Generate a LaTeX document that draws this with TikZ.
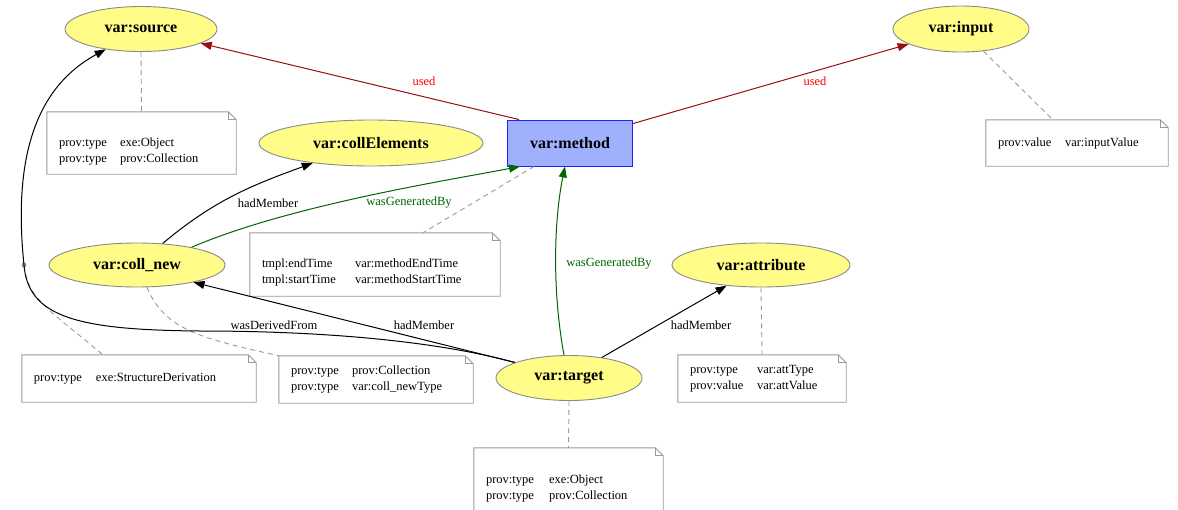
\documentclass[tikz,border=0pt]{standalone}
\usepackage{fontspec}
\setmainfont{Liberation Serif}
\usetikzlibrary{shapes.geometric,arrows.meta,calc}
\definecolor{entfill}{HTML}{FFFC87}
\definecolor{entline}{HTML}{8A8A8A}
\definecolor{actfill}{HTML}{9FB1FC}
\definecolor{actline}{HTML}{2020FF}
\definecolor{usedline}{HTML}{990F0F}
\definecolor{genline}{HTML}{006400}
\definecolor{noteline}{HTML}{9A9A9A}
\newcommand{\notetab}[2]{\begin{tabular}{@{}p{#1pt}@{}l@{}}#2\end{tabular}}
\tikzset{
  ent/.style 2 args={ellipse, draw=entline, fill=entfill, line width=0.9pt, inner sep=0pt,
    minimum width=#1pt, minimum height=#2pt, font=\fontsize{16}{18}\selectfont\bfseries},
  act/.style 2 args={rectangle, draw=actline, fill=actfill, line width=0.9pt, inner sep=0pt,
    minimum width=#1pt, minimum height=#2pt, font=\fontsize{16}{18}\selectfont\bfseries},
  notebox/.style 2 args={rectangle, text width=#1, minimum height=#2, inner xsep=12pt,
    inner ysep=0pt, align=left, font=\fontsize{12.5}{16}\selectfont},
  noteoutline/.style={draw=noteline, line width=0.9pt, line join=miter},
  notelink/.style={draw=noteline, line width=0.9pt, dash pattern=on 5pt off 4pt},
  tip/.style={-{Triangle[length=11pt,width=8pt]}},
  usededge/.style={tip, draw=usedline, line width=1pt},
  genedge/.style={tip, draw=genline, line width=1pt},
  memedge/.style={tip, draw=black, line width=1pt},
  lbl/.style={font=\fontsize{12.5}{14}\selectfont, inner sep=1pt},
}
\begin{document}
\begin{tikzpicture}[x=1pt,y=-1pt]
\useasboundingbox (0,0) rectangle (1178,509);
% nodes
\node[ent={152}{45}] (src) at (141,29) {var:source};
\node[ent={136}{46}] (inp) at (961,29) {var:input};
\node[act={125}{46}] (mth) at (570,143) {var:method};
\node[ent={224}{46}] (cel) at (371,143) {var:collElements};
\node[ent={176}{44}] (cnew) at (137,265) {var:coll\_new};
\node[ent={178}{44}] (att) at (761,265) {var:attribute};
\node[ent={146}{45}] (tgt) at (569,378) {var:target};
\node[circle, fill=noteline, inner sep=0pt, minimum size=5pt] (ddot) at (24,265) {};
% notes
\node[notebox={165pt}{62pt}] (nsrc) at (141.5,143) {\notetab{61}{\strut\\ prov:type & exe:Object\\ prov:type & prov:Collection}};
\node[notebox={158pt}{46pt}] (ninp) at (1077,143) {\notetab{67}{prov:value & var:inputValue}};
\node[notebox={226pt}{63pt}] (nmth) at (375,264.5) {\notetab{93}{\strut\\ tmpl:endTime & var:methodEndTime\\ tmpl:startTime & var:methodStartTime}};
\node[notebox={170pt}{47pt}] (ncnew) at (376,379.5) {\notetab{61}{prov:type & prov:Collection\\ prov:type & var:coll\_newType}};
\node[notebox={210pt}{47pt}] (nder) at (139,378.5) {\notetab{62}{prov:type & exe:StructureDerivation}};
\node[notebox={144pt}{47pt}] (natt) at (762,378.5) {\notetab{67}{prov:type & var:attType\\ prov:value & var:attValue}};
\node[notebox={165pt}{64pt}] (ntgt) at (568.5,480) {\notetab{63}{\strut\\ prov:type & exe:Object\\ prov:type & prov:Collection}};
\foreach \n in {nsrc,ninp,nmth,ncnew,nder,natt,ntgt}{
  \draw[noteoutline] (\n.north west) -- ($(\n.north east)+(-8,0)$) -- ($(\n.north east)+(0,8)$)
     -- (\n.south east) -- (\n.south west) -- cycle;
  \draw[noteoutline] ($(\n.north east)+(-8,0)$) -- ($(\n.north east)+(-8,8)$) -- ($(\n.north east)+(0,8)$);
}
% note links
\draw[notelink] (src.south) -- (nsrc.north);
\draw[notelink] (inp) -- ($(ninp.north west)+(67,0)$);
\draw[notelink] ($(mth.south west)+(27,0)$) -- ($(nmth.north)+(48,0)$);
\draw[notelink] (cnew.294) .. controls (165,330) and (200,338) .. (ncnew.north west);
\draw[notelink] (ddot.center) .. controls (28,300) and (50,310) .. ($(nder.north west)+(81,0)$);
\draw[notelink] (att.south) -- (natt.north);
\draw[notelink] (tgt.south) -- (ntgt.north);
% edges
\draw[usededge] ($(mth.north west)+(12,0)$) -- (src);
\draw[usededge] ($(mth.north east)+(0,4)$) -- (inp);
\draw[genedge] (cnew.18) .. controls (290,205) and (450,180) .. ($(mth.south west)+(13,0)$);
\draw[genedge] ($(tgt.north)+(-5,0)$) .. controls (552,290) and (554,220) .. ($(mth.south)+(-5,0)$);
\draw[memedge] (cnew.40) to[out=40,in=200] (cel.199);
\draw[memedge] (tgt.164) -- (cnew.343);
\draw[memedge] (tgt.32.5) -- (att.211.7);
\draw[memedge] (tgt.164) .. controls (440,342) and (330,331) .. (200,331)
   .. controls (80,330) and (28,318) .. (ddot.center)
   .. controls (12,150) and (40,85) .. (src.210);
% edge labels
\node[lbl, text=red] (l1) at (424,81) {used};
\node[lbl, text=red] (l2) at (815,81) {used};
\node[lbl, text=genline] (l3) at (409,203) {wasGeneratedBy};
\node[lbl, text=genline] (l4) at (609,264) {wasGeneratedBy};
\node[lbl] (l5) at (268,203) {hadMember};
\node[lbl] (l6) at (424,325) {hadMember};
\node[lbl] (l7) at (701,325) {hadMember};
\node[lbl] (l8) at (274,325) {wasDerivedFrom};
\end{tikzpicture}
\end{document}
